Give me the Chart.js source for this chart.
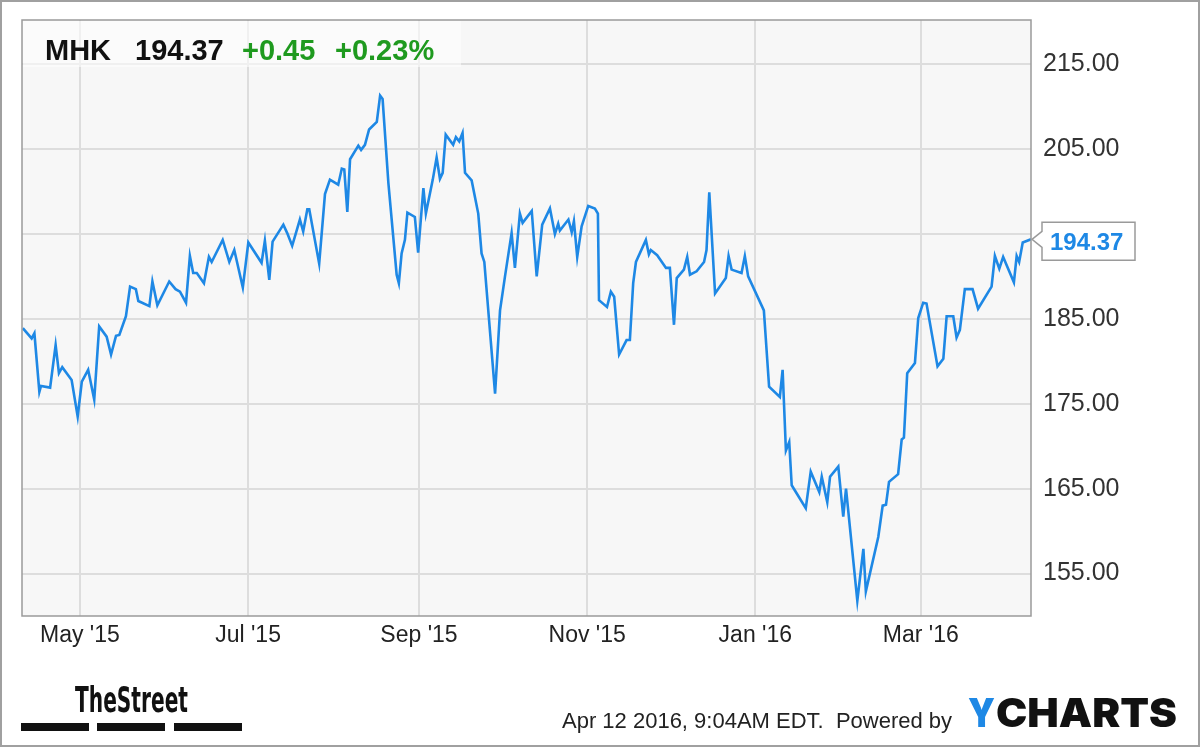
<!DOCTYPE html>
<html>
<head>
<meta charset="utf-8">
<title>MHK</title>
<script src="https://cdn.jsdelivr.net/npm/chart.js@4.4.1/dist/chart.umd.min.js"></script>
<style>
  body { margin: 0; background: #fff; }
  canvas { display: block; }
</style>
</head>
<body>
<canvas id="chart" width="1200" height="747"></canvas>
<script>
// day number counted from 1 May 2015 (negative = April 2015)
const days = [
  -20.7, -17.5, -16.5, -14.7, -14.1, -10.8, -8.8, -7.6, -6.4, -3.0, -0.8, 0.7, 3.0, 5.2, 7.0, 9.7,
  11.3, 13.1, 14.3, 16.7, 18.2, 20.3, 21.2, 25.2, 26.3, 28.1, 32.4, 34.7, 36.3, 38.5, 39.9, 41.1,
  42.4, 45.0, 46.8, 47.8, 51.8, 54.2, 56.0, 59.1, 61.1, 65.9, 67.1, 68.7, 69.9, 73.8, 75.2, 77.0,
  79.8, 81.0, 82.5, 83.2, 86.8, 88.9, 90.7, 93.7, 95.0, 95.9, 97.0, 98.0, 101.0, 102.0, 103.4, 104.9,
  107.7, 108.9, 109.8, 111.9, 114.9, 115.7, 116.7, 117.9, 118.8, 121.5, 122.7, 124.6, 125.5, 128.0,
  129.4, 130.6, 131.6, 132.7, 135.4, 136.4, 137.6, 138.8, 139.7, 142.1, 144.5, 145.7, 146.7, 150.6,
  152.4, 154.2, 156.6, 157.8, 159.6, 160.6, 163.9, 165.7, 167.7, 170.5, 172.3, 173.5, 174.1, 177.2,
  178.4, 179.2, 180.4, 182.0, 184.4, 186.8, 187.9, 188.3, 191.2, 192.6, 193.8, 195.6, 198.3, 199.5,
  200.7, 201.7, 205.3, 206.4, 207.1, 209.4, 212.6, 214.0, 215.5, 216.5, 219.1, 220.3, 221.3, 223.7,
  226.4, 227.3, 228.3, 230.4, 234.3, 235.3, 236.4, 240.0, 241.2, 242.4, 248.1, 250.0, 253.9, 254.9,
  256.1, 257.3, 258.2, 263.3, 265.1, 268.2, 269.1, 271.1, 272.1, 275.1, 276.9, 277.9, 282.0, 284.2,
  285.1, 289.6, 291.2, 292.4, 293.5, 296.8, 298.1, 298.9, 300.1, 302.9, 304.1, 305.9, 307.1, 311.1,
  313.2, 314.4, 316.8, 318.0, 319.2, 321.0, 323.8, 325.8, 330.7, 331.9, 333.5, 334.9, 338.8, 339.8,
  340.7, 342.0, 345.0
];
const prices = [
  183.9, 182.7, 183.3, 176.4, 177.1, 176.9, 181.9, 178.6, 179.3, 177.8, 173.5, 177.6, 179.0, 175.5, 184.1, 182.9,
  180.8, 183.0, 183.1, 185.3, 188.8, 188.5, 187.1, 186.5, 189.4, 186.6, 189.4, 188.5, 188.2, 186.9, 192.4, 190.4,
  190.4, 189.2, 192.3, 191.7, 194.3, 191.7, 193.1, 188.7, 194.0, 191.6, 194.2, 189.6, 194.1, 196.1, 195.1, 193.6,
  196.7, 195.3, 197.9, 197.9, 191.5, 199.7, 201.4, 200.8, 202.7, 202.6, 197.6, 203.8, 205.4, 204.9, 205.5, 207.3,
  208.2, 211.3, 210.9, 201.0, 190.2, 189.2, 192.7, 194.3, 197.5, 197.0, 192.8, 200.4, 197.4, 201.4,
  204.0, 201.5, 202.2, 206.7, 205.5, 206.4, 205.9, 206.9, 202.2, 201.3, 197.4, 192.7, 191.7, 176.2,
  186.0, 190.0, 195.1, 191.0, 197.4, 196.3, 197.7, 190.0, 196.1, 198.0, 195.0, 196.2, 195.4, 196.7,
  195.2, 196.5, 192.3, 195.9, 198.3, 198.0, 197.4, 187.2, 186.4, 188.2, 187.6, 180.8, 182.5, 182.5,
  189.2, 191.7, 194.3, 192.6, 193.1, 192.5, 191.0, 191.0, 184.3, 189.8, 190.8, 192.3, 190.2, 190.6,
  191.7, 193.1, 199.9, 188.0, 189.8, 192.4, 190.8, 190.4, 192.4, 190.0, 186.0, 177.0, 175.8, 179.0,
  169.5, 170.5, 165.4, 162.7, 167.0, 164.6, 166.4, 163.4, 166.4, 167.6, 161.7, 165.0, 151.8, 157.9,
  152.9, 159.3, 163.0, 163.1, 165.8, 166.7, 170.8, 171.0, 178.6, 179.8, 185.1, 186.9, 186.8, 179.4,
  180.3, 185.3, 185.3, 182.8, 183.7, 188.5, 188.5, 186.2, 188.8, 192.4, 190.9, 192.3, 189.3, 192.4,
  191.7, 194.0, 194.37
];
const monthTicks = [0, 61, 123, 184, 245, 305];
const monthLabels = ["May '15", "Jul '15", "Sep '15", "Nov '15", "Jan '16", "Mar '16"];
const priceTicks = [155, 165, 175, 185, 195, 205, 215];

const symbol = 'MHK';
const lastPrice = 194.37;
const change = '+0.45';
const changePct = '+0.23%';

const LINE_BLUE = '#1e88e5';
const FONT = '"Liberation Sans", Arial, sans-serif';

// draws text squeezed or stretched to an exact width
function fitText(ctx, text, x, y, width) {
  const w = ctx.measureText(text).width;
  ctx.save();
  ctx.translate(x, y);
  ctx.scale(width / w, 1);
  ctx.fillText(text, 0, 0);
  ctx.restore();
}

const decor = {
  id: 'decor',
  beforeDraw(chart) {
    const ctx = chart.ctx;
    const a = chart.chartArea;
    ctx.save();
    ctx.fillStyle = '#ffffff';
    ctx.fillRect(0, 0, chart.width, chart.height);
    ctx.fillStyle = '#f7f7f7';
    ctx.fillRect(a.left, a.top, a.right - a.left, a.bottom - a.top);
    ctx.restore();
  },
  afterDraw(chart) {
    const ctx = chart.ctx;
    const a = chart.chartArea;
    ctx.save();

    // plot frame
    ctx.strokeStyle = '#9a9a9a';
    ctx.lineWidth = 1.5;
    ctx.strokeRect(a.left, a.top, a.right - a.left, a.bottom - a.top);

    // header box
    ctx.fillStyle = 'rgba(255,255,255,0.55)';
    ctx.fillRect(a.left + 1, a.top + 1, 438, 46);
    ctx.font = 'bold 29px ' + FONT;
    ctx.textBaseline = 'alphabetic';
    ctx.textAlign = 'left';
    ctx.fillStyle = '#111';
    ctx.fillText(symbol, 45, 60);
    ctx.fillText(lastPrice.toFixed(2), 135, 60);
    ctx.fillStyle = '#1f9a1f';
    ctx.fillText(change, 242, 60);
    ctx.fillText(changePct, 335, 60);

    // last price flag
    const y = chart.scales.y.getPixelForValue(lastPrice);
    const x0 = a.right + 1;
    ctx.beginPath();
    ctx.moveTo(x0, y);
    ctx.lineTo(x0 + 10, y - 8);
    ctx.lineTo(x0 + 10, y - 17);
    ctx.lineTo(1135, y - 17);
    ctx.lineTo(1135, y + 21);
    ctx.lineTo(x0 + 10, y + 21);
    ctx.lineTo(x0 + 10, y + 8);
    ctx.closePath();
    ctx.fillStyle = '#fff';
    ctx.fill();
    ctx.strokeStyle = '#9a9a9a';
    ctx.lineWidth = 1.5;
    ctx.stroke();
    ctx.fillStyle = LINE_BLUE;
    ctx.font = 'bold 24px ' + FONT;
    ctx.fillText(lastPrice.toFixed(2), 1050, y + 11);

    // footer: TheStreet logo
    ctx.fillStyle = '#111';
    ctx.font = 'bold 35px "Liberation Sans Narrow", "DejaVu Sans Condensed", ' + FONT;
    fitText(ctx, 'TheStreet', 75, 712, 113);
    [[21, 89], [97, 165], [174, 242]].forEach(([l, r]) => {
      ctx.fillRect(l, 723, r - l, 8);
    });

    // footer: timestamp + YCHARTS
    ctx.fillStyle = '#222';
    ctx.font = '22px ' + FONT;
    ctx.fillText('Apr 12 2016, 9:04AM EDT.  Powered by', 562, 728, 396);
    ctx.font = '900 40px Inter, "DejaVu Sans", sans-serif';
    ctx.fillStyle = LINE_BLUE;
    fitText(ctx, 'Y', 968, 727, 27);
    ctx.fillStyle = '#111';
    fitText(ctx, 'CHARTS', 996, 727, 181);

    // outer border
    ctx.strokeStyle = '#a0a0a0';
    ctx.lineWidth = 2;
    ctx.strokeRect(1, 1, chart.width - 2, chart.height - 2);
    ctx.restore();
  }
};

new Chart(document.getElementById('chart'), {
  type: 'line',
  data: {
    datasets: [{
      label: symbol,
      data: days.map((d, i) => ({ x: d, y: prices[i] })),
      borderColor: LINE_BLUE,
      borderWidth: 2.6,
      pointRadius: 0,
      tension: 0,
      fill: false
    }]
  },
  options: {
    responsive: false,
    devicePixelRatio: 1,
    animation: false,
    layout: { padding: { left: 22, top: 20, right: 0, bottom: 0 } },
    plugins: { legend: { display: false }, tooltip: { enabled: false } },
    scales: {
      x: {
        type: 'linear',
        min: -21,
        max: 345,
        afterFit: s => { s.height = 131; s.paddingLeft = 0; s.paddingRight = 0; },
        afterBuildTicks: s => { s.ticks = monthTicks.map(v => ({ value: v })); },
        grid: { color: '#dddddd', lineWidth: 2, drawTicks: false },
        border: { display: false },
        ticks: {
          padding: 6,
          color: '#222',
          font: { family: FONT, size: 23 },
          maxRotation: 0,
          callback: v => monthLabels[monthTicks.indexOf(v)]
        }
      },
      y: {
        position: 'right',
        min: 150,
        max: 220.2,
        afterFit: s => { s.width = 169; s.paddingTop = 0; s.paddingBottom = 0; },
        afterBuildTicks: s => { s.ticks = priceTicks.map(v => ({ value: v })); },
        grid: { color: '#dddddd', lineWidth: 2, drawTicks: false },
        border: { display: false },
        ticks: {
          padding: 12,
          color: '#333',
          font: { family: FONT, size: 25 },
          callback: v => v.toFixed(2)
        }
      }
    }
  },
  plugins: [decor]
});
</script>
</body>
</html>
